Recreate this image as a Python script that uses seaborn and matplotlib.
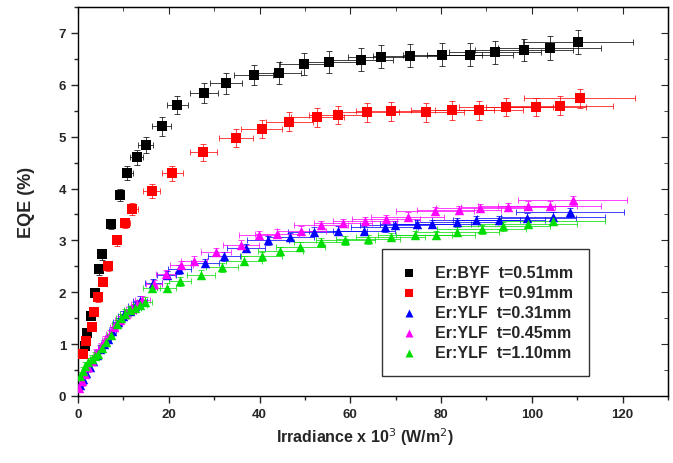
import pandas as pd
import matplotlib
matplotlib.use('Agg')
import matplotlib.pyplot as plt
import seaborn as sns
from matplotlib.ticker import MultipleLocator

# EQE vs irradiance data
labels = ['Er:BYF  t=0.51mm', 'Er:BYF  t=0.91mm', 'Er:YLF  t=0.31mm',
          'Er:YLF  t=0.45mm', 'Er:YLF  t=1.10mm']

byf051_x = [1.5, 2.0, 2.8, 3.7, 4.6, 5.2, 7.2, 9.2, 10.9, 12.9, 14.9, 18.4, 21.9, 27.8,
            32.6, 38.7, 44.2, 49.9, 55.4, 62.4, 66.7, 73.1, 80.3, 86.4, 91.9, 98.2, 103.9, 110.1]
byf051_y = [0.97, 1.22, 1.55, 1.99, 2.44, 2.73, 3.31, 3.87, 4.30, 4.60, 4.84, 5.20, 5.61, 5.84,
            6.03, 6.19, 6.23, 6.40, 6.44, 6.48, 6.54, 6.56, 6.58, 6.58, 6.63, 6.67, 6.71, 6.82]
byf051_xerr = [0.2, 0.2, 0.3, 0.4, 0.5, 0.6, 0.8, 1.0, 1.2, 1.4, 1.6, 2.0, 2.4, 3.1,
               3.6, 4.3, 4.9, 5.5, 6.1, 6.9, 7.3, 8.0, 8.8, 9.5, 10.1, 10.8, 11.4, 12.1]
byf051_yerr = [0.08, 0.08, 0.08, 0.08, 0.1, 0.1, 0.1, 0.12, 0.14, 0.15, 0.16, 0.18, 0.18, 0.2,
               0.2, 0.2, 0.21, 0.22, 0.22, 0.22, 0.22, 0.22, 0.22, 0.22, 0.22, 0.22, 0.23, 0.23]

byf091_x = [1.1, 1.8, 3.1, 3.5, 4.4, 5.5, 6.6, 8.5, 10.3, 12.0, 16.2, 20.8, 27.6, 34.8,
            40.5, 46.6, 52.7, 57.3, 63.7, 68.9, 76.6, 82.5, 88.4, 94.3, 100.9, 106.1, 110.5]
byf091_y = [0.81, 1.06, 1.33, 1.62, 1.90, 2.20, 2.50, 3.00, 3.33, 3.60, 3.95, 4.29, 4.70, 4.97,
            5.15, 5.29, 5.37, 5.42, 5.47, 5.49, 5.47, 5.51, 5.51, 5.57, 5.57, 5.60, 5.74]
byf091_xerr = [0.1, 0.2, 0.3, 0.4, 0.5, 0.6, 0.7, 0.9, 1.1, 1.3, 1.8, 2.3, 3.0, 3.8,
               4.5, 5.1, 5.8, 6.3, 7.0, 7.6, 8.4, 9.1, 9.7, 10.4, 11.1, 11.7, 12.2]
byf091_yerr = [0.06, 0.06, 0.07, 0.07, 0.08, 0.08, 0.09, 0.1, 0.1, 0.12, 0.13, 0.15, 0.16, 0.17,
               0.18, 0.18, 0.18, 0.18, 0.18, 0.18, 0.18, 0.18, 0.18, 0.18, 0.18, 0.18, 0.18]

ylf031_x = [0.5, 1.0, 1.8, 2.6, 3.4, 4.2, 4.8, 5.7, 6.6, 7.6, 8.8, 10.0, 11.4, 12.5, 13.6, 16.6,
            19.5, 22.3, 28.0, 32.2, 37.0, 41.8, 46.8, 51.9, 57.3, 63.0, 67.6, 69.8, 74.8, 78.1,
            83.4, 87.7, 92.8, 98.9, 104.6, 108.3]
ylf031_y = [0.22, 0.32, 0.45, 0.56, 0.68, 0.80, 0.91, 1.00, 1.10, 1.25, 1.43, 1.55, 1.64, 1.74,
            1.84, 2.17, 2.33, 2.44, 2.57, 2.69, 2.86, 3.00, 3.07, 3.17, 3.19, 3.19, 3.25, 3.29,
            3.31, 3.31, 3.35, 3.39, 3.39, 3.44, 3.46, 3.54]
ylf031_xerr = [0.1, 0.1, 0.2, 0.3, 0.4, 0.5, 0.5, 0.6, 0.7, 0.8, 1.0, 1.1, 1.3, 1.4, 1.5, 1.8,
               2.1, 2.5, 3.1, 3.5, 4.1, 4.6, 5.1, 5.7, 6.3, 6.9, 7.4, 7.7, 8.2, 8.6,
               9.2, 9.6, 10.2, 10.9, 11.5, 11.9]

ylf045_x = [0.3, 0.8, 1.5, 2.3, 3.1, 4.0, 5.0, 6.0, 7.0, 8.0, 9.2, 10.5, 11.8, 13.0, 14.2, 16.8,
            19.3, 22.8, 25.6, 30.4, 35.9, 39.8, 43.8, 49.2, 53.6, 58.4, 63.2, 67.8, 72.6, 78.6,
            84.0, 88.6, 94.7, 99.1, 103.9, 109.0]
ylf045_y = [0.15, 0.28, 0.42, 0.55, 0.68, 0.82, 0.95, 1.08, 1.20, 1.33, 1.46, 1.58, 1.68, 1.77,
            1.85, 2.15, 2.35, 2.53, 2.61, 2.78, 2.92, 3.10, 3.13, 3.19, 3.29, 3.33, 3.38, 3.41,
            3.46, 3.56, 3.58, 3.62, 3.65, 3.67, 3.67, 3.77]
ylf045_xerr = [0.0, 0.1, 0.2, 0.3, 0.3, 0.4, 0.6, 0.7, 0.8, 0.9, 1.0, 1.2, 1.3, 1.4, 1.6, 1.8,
               2.1, 2.5, 2.8, 3.3, 3.9, 4.4, 4.8, 5.4, 5.9, 6.4, 7.0, 7.5, 8.0, 8.6,
               9.2, 9.7, 10.4, 10.9, 11.4, 12.0]

ylf110_x = [0.4, 1.0, 1.6, 2.2, 3.0, 3.7, 4.4, 5.3, 6.2, 7.2, 8.5, 9.4, 10.3, 11.4, 12.5, 13.6,
            14.7, 16.2, 19.5, 22.5, 27.1, 31.7, 36.5, 40.5, 44.6, 49.0, 53.6, 58.9, 63.9, 68.9,
            74.2, 78.8, 83.6, 89.0, 93.7, 99.1, 104.6]
ylf110_y = [0.39, 0.48, 0.57, 0.66, 0.72, 0.77, 0.81, 0.92, 1.04, 1.18, 1.39, 1.50, 1.59, 1.65,
            1.70, 1.76, 1.82, 2.09, 2.09, 2.21, 2.34, 2.48, 2.61, 2.69, 2.79, 2.88, 2.96, 3.00,
            3.02, 3.06, 3.10, 3.11, 3.17, 3.21, 3.27, 3.31, 3.38]
ylf110_xerr = [0.0, 0.1, 0.2, 0.2, 0.3, 0.4, 0.5, 0.6, 0.7, 0.8, 0.9, 1.0, 1.1, 1.3, 1.4, 1.5,
               1.6, 1.8, 2.1, 2.5, 3.0, 3.5, 4.0, 4.5, 4.9, 5.4, 5.9, 6.5, 7.0, 7.6,
               8.2, 8.7, 9.2, 9.8, 10.3, 10.9, 11.5]

ylf_yerr = 0.08

series = [
    (byf051_x, byf051_y, byf051_xerr, byf051_yerr),
    (byf091_x, byf091_y, byf091_xerr, byf091_yerr),
    (ylf031_x, ylf031_y, ylf031_xerr, ylf_yerr),
    (ylf045_x, ylf045_y, ylf045_xerr, ylf_yerr),
    (ylf110_x, ylf110_y, ylf110_xerr, ylf_yerr),
]
colors = ['black', '#ff0000', '#0000ff', '#ff00ff', '#00dd00']
markers = ['s', 's', '^', '^', '^']

sns.set_style('ticks')
plt.rcParams['font.family'] = ['Liberation Sans', 'DejaVu Sans']

fig = plt.figure(figsize=(6.73, 4.64), dpi=100)
ax = fig.add_axes([0.1159, 0.1444, 0.8767, 0.8384])

for (x, y, xe, ye), lab, c, m in zip(series, labels, colors, markers):
    ax.errorbar(x, y, xerr=xe, yerr=ye, fmt='none', ecolor=c, elinewidth=0.7,
                capsize=2, capthick=0.7, alpha=0.75, zorder=2)
    df = pd.DataFrame({'x': x, 'y': y})
    sns.scatterplot(data=df, x='x', y='y', color=c, marker=m, s=46,
                    edgecolor=c, linewidth=0, label=lab, ax=ax, zorder=3)

ax.set_xlim(0, 130)
ax.set_ylim(0, 7.5)
ax.xaxis.set_major_locator(MultipleLocator(20))
ax.xaxis.set_minor_locator(MultipleLocator(10))
ax.yaxis.set_major_locator(MultipleLocator(1))
ax.yaxis.set_minor_locator(MultipleLocator(0.5))
ax.tick_params(which='major', direction='out', length=5, width=1, labelsize=9.5)
ax.tick_params(which='minor', direction='out', length=3, width=1)
for lbl in ax.get_xticklabels() + ax.get_yticklabels():
    lbl.set_fontweight('bold')

# mirrored ticks pointing inward on top and right
top = ax.secondary_xaxis('top')
top.xaxis.set_major_locator(MultipleLocator(20))
top.xaxis.set_minor_locator(MultipleLocator(10))
top.tick_params(which='major', direction='in', length=5, labeltop=False)
top.tick_params(which='minor', direction='in', length=3)
right = ax.secondary_yaxis('right')
right.yaxis.set_major_locator(MultipleLocator(1))
right.yaxis.set_minor_locator(MultipleLocator(0.5))
right.tick_params(which='major', direction='in', length=5, labelright=False)
right.tick_params(which='minor', direction='in', length=3)

for sp in ax.spines.values():
    sp.set_linewidth(1)
    sp.set_color('black')

ax.set_xlabel('Irradiance x 10$^3$ (W/m$^2$)', fontsize=11.5, fontweight='bold')
ax.xaxis.set_label_coords(0.486, -0.075)
ax.set_ylabel('EQE (%)', fontsize=13, fontweight='bold', labelpad=17)

leg = ax.legend(loc='upper left', bbox_to_anchor=(0.515, 0.378), frameon=True, fancybox=False,
                prop={'weight': 'bold', 'size': 11.5}, handletextpad=0.9, labelspacing=0.32,
                borderpad=1.0, borderaxespad=0, handlelength=1.4, markerscale=0.85)
leg.get_frame().set_edgecolor('black')
leg.get_frame().set_linewidth(1)

fig.savefig('out.png', dpi=100)
